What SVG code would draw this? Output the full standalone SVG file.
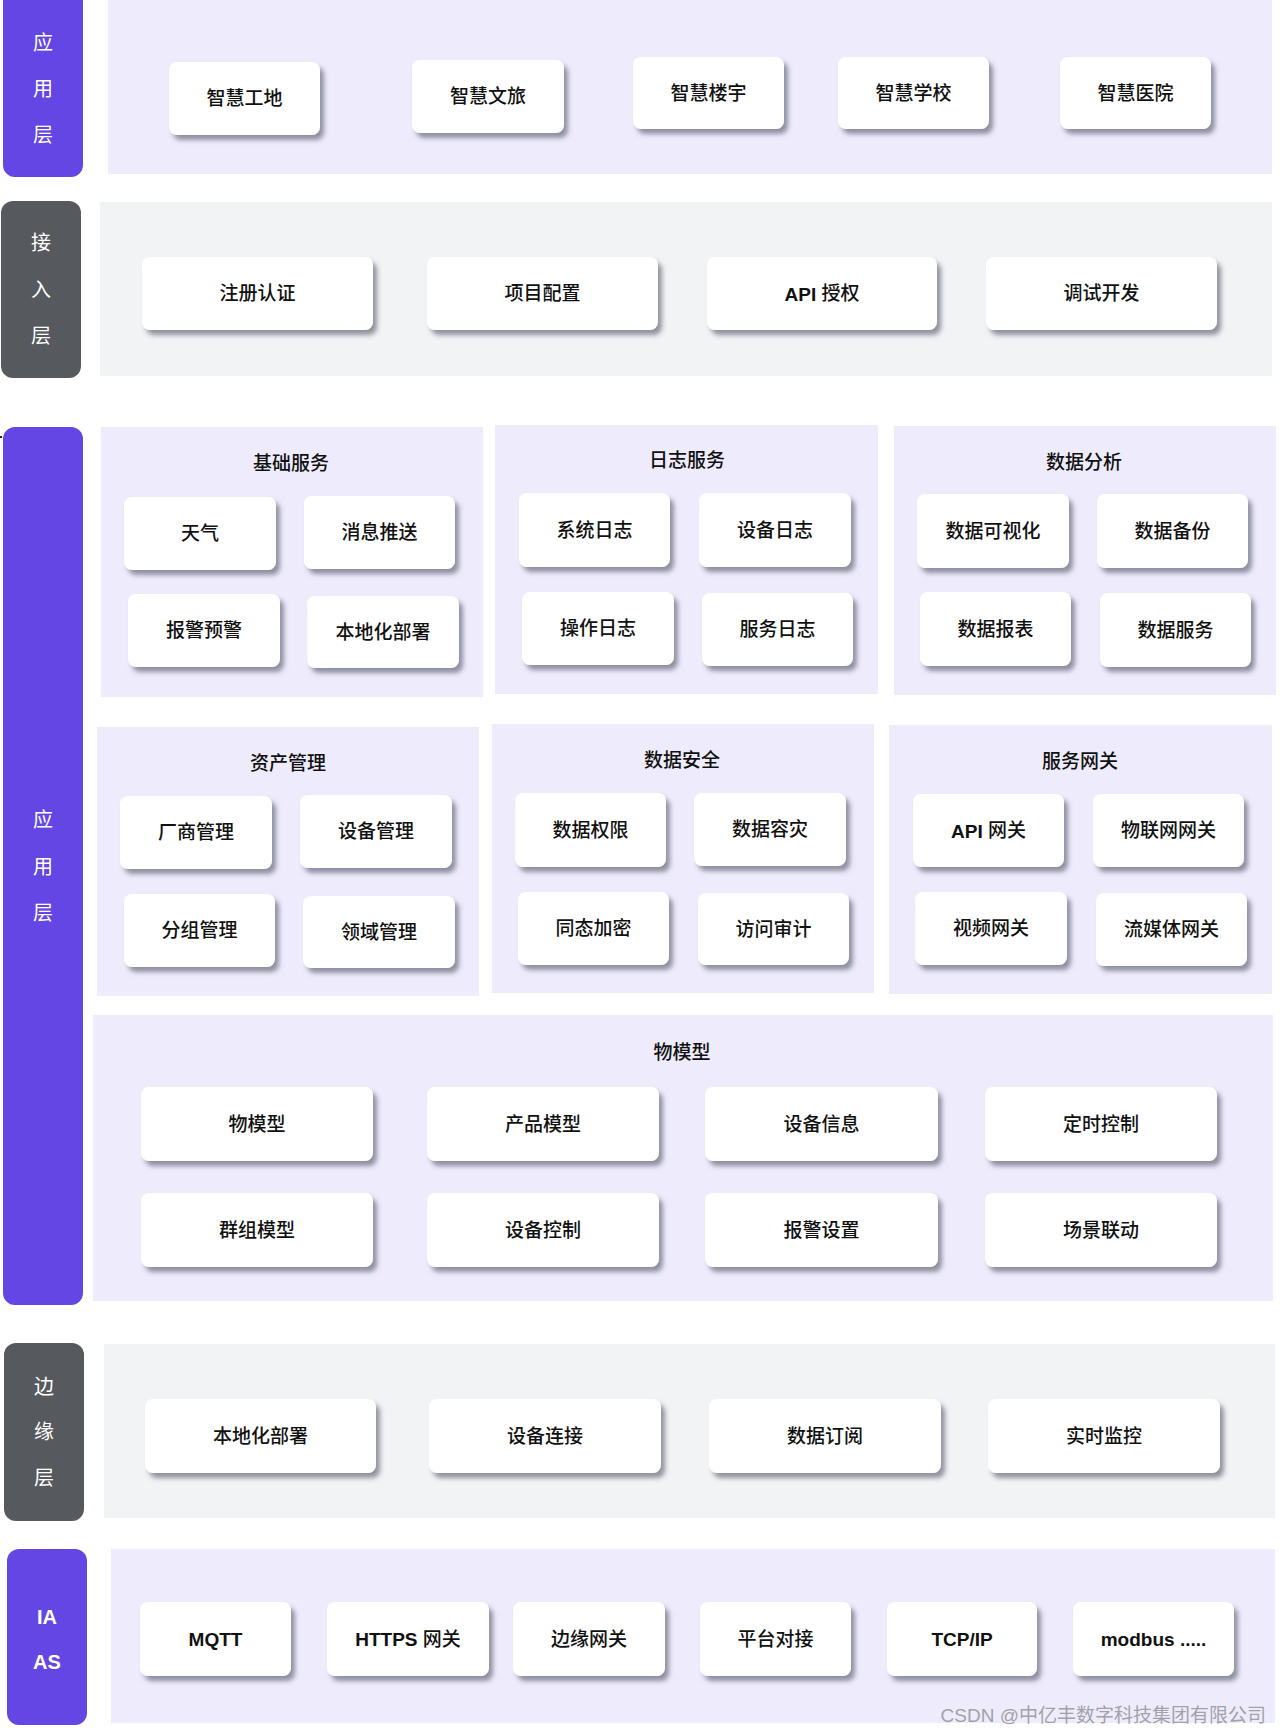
<svg xmlns="http://www.w3.org/2000/svg" width="1280" height="1735" viewBox="0 0 1280 1735">
<style>
.bgL{fill:#eeecfc}
.bgG{fill:#f2f3f5}
.labP{fill:#6446e5}
.labG{fill:#56595e}
.card{fill:#ffffff;filter:url(#sh)}
.t{font-family:"Liberation Sans","Noto Sans CJK SC",sans-serif;font-size:19px;font-weight:500;fill:#111;text-anchor:middle;dominant-baseline:central}
.tb{font-weight:bold}
.lt{font-family:"Liberation Sans","Noto Sans CJK SC",sans-serif;font-size:20px;fill:#fff;text-anchor:middle;dominant-baseline:central}
.wm{font-family:"Liberation Sans","Noto Sans CJK SC",sans-serif;font-size:19px;fill:#a2a2a8;text-anchor:end}
</style>
<defs>
<filter id="sh" x="-10%" y="-15%" width="125%" height="140%">
<feDropShadow dx="4" dy="5" stdDeviation="2.5" flood-color="#5a5c70" flood-opacity="0.65"/>
</filter>
</defs>
<rect width="1280" height="1735" fill="#ffffff"/>

<!-- Layer: 应用层 top -->
<g id="layer-app-top">
<rect class="bgL" x="108" y="0" width="1164" height="174"/>
<rect class="labP" x="3" y="-12" width="80" height="189" rx="12"/>
<text class="lt" x="43" y="43">应</text>
<text class="lt" x="43" y="89">用</text>
<text class="lt" x="43" y="135">层</text>
</g>
<g id="n-zhgd"><rect class="card" x="169" y="62" width="151" height="73" rx="8"/><text class="t" x="244.5" y="98.5">智慧工地</text></g>
<g id="n-zhwl"><rect class="card" x="412" y="60" width="152" height="73" rx="8"/><text class="t" x="488" y="96.5">智慧文旅</text></g>
<g id="n-zhly"><rect class="card" x="633" y="57" width="151" height="72" rx="8"/><text class="t" x="708.5" y="93">智慧楼宇</text></g>
<g id="n-zhxx"><rect class="card" x="838" y="57" width="151" height="72" rx="8"/><text class="t" x="913.5" y="93">智慧学校</text></g>
<g id="n-zhyy"><rect class="card" x="1060" y="57" width="151" height="72" rx="8"/><text class="t" x="1135.5" y="93">智慧医院</text></g>

<!-- Layer: 接入层 -->
<g id="layer-access">
<rect class="bgG" x="100" y="202" width="1172" height="174"/>
<rect class="labG" x="1" y="201" width="80" height="177" rx="12"/>
<text class="lt" x="41" y="243">接</text>
<text class="lt" x="41" y="290">入</text>
<text class="lt" x="41" y="336">层</text>
</g>
<g id="n-zcrz"><rect class="card" x="142" y="257" width="231" height="73" rx="8"/><text class="t" x="257.5" y="293.5">注册认证</text></g>
<g id="n-xmpz"><rect class="card" x="427" y="257" width="231" height="73" rx="8"/><text class="t" x="542.5" y="293.5">项目配置</text></g>
<g id="n-apisq"><rect class="card" x="707" y="257" width="230" height="73" rx="8"/><text class="t" x="822" y="293.5"><tspan class="tb">API</tspan> 授权</text></g>
<g id="n-tskf"><rect class="card" x="986" y="257" width="231" height="73" rx="8"/><text class="t" x="1101.5" y="293.5">调试开发</text></g>

<!-- Layer: 应用层 middle -->
<g id="layer-app-mid">
<rect class="labP" x="3" y="427" width="80" height="878" rx="12"/>
<text class="lt" x="43" y="820">应</text>
<text class="lt" x="43" y="867">用</text>
<text class="lt" x="43" y="913">层</text>
<rect x="0" y="436" width="2" height="2" fill="#222"/>
</g>

<g id="p-jcfw">
<rect class="bgL" x="101" y="427" width="382" height="270"/>
<text class="t" x="291" y="463">基础服务</text>
</g>
<g id="n-tq"><rect class="card" x="124" y="497" width="152" height="73" rx="8"/><text class="t" x="200" y="533.5">天气</text></g>
<g id="n-xxts"><rect class="card" x="304" y="496" width="151" height="73" rx="8"/><text class="t" x="379.5" y="532.5">消息推送</text></g>
<g id="n-bjyj"><rect class="card" x="128" y="594" width="152" height="73" rx="8"/><text class="t" x="204" y="630.5">报警预警</text></g>
<g id="n-bdhbs1"><rect class="card" x="307" y="596" width="152" height="72" rx="8"/><text class="t" x="383" y="632">本地化部署</text></g>

<g id="p-rzfw">
<rect class="bgL" x="495" y="425" width="383" height="269"/>
<text class="t" x="687" y="460">日志服务</text>
</g>
<g id="n-xtrz"><rect class="card" x="519" y="493" width="151" height="74" rx="8"/><text class="t" x="594.5" y="530">系统日志</text></g>
<g id="n-sbrz"><rect class="card" x="699" y="493" width="152" height="74" rx="8"/><text class="t" x="775" y="530">设备日志</text></g>
<g id="n-czrz"><rect class="card" x="522" y="592" width="152" height="73" rx="8"/><text class="t" x="598" y="628.5">操作日志</text></g>
<g id="n-fwrz"><rect class="card" x="702" y="593" width="151" height="73" rx="8"/><text class="t" x="777.5" y="629.5">服务日志</text></g>

<g id="p-sjfx">
<rect class="bgL" x="894" y="426" width="382" height="269"/>
<text class="t" x="1084" y="462">数据分析</text>
</g>
<g id="n-sjksh"><rect class="card" x="917" y="494" width="152" height="74" rx="8"/><text class="t" x="993" y="531">数据可视化</text></g>
<g id="n-sjbf"><rect class="card" x="1097" y="494" width="151" height="74" rx="8"/><text class="t" x="1172.5" y="531">数据备份</text></g>
<g id="n-sjbb"><rect class="card" x="920" y="592" width="151" height="74" rx="8"/><text class="t" x="995.5" y="629">数据报表</text></g>
<g id="n-sjfw"><rect class="card" x="1100" y="593" width="151" height="74" rx="8"/><text class="t" x="1175.5" y="630">数据服务</text></g>

<g id="p-zcgl">
<rect class="bgL" x="97" y="727" width="382" height="269"/>
<text class="t" x="288" y="763">资产管理</text>
</g>
<g id="n-csgl"><rect class="card" x="120" y="796" width="152" height="73" rx="8"/><text class="t" x="196" y="832.5">厂商管理</text></g>
<g id="n-sbgl"><rect class="card" x="300" y="795" width="152" height="73" rx="8"/><text class="t" x="376" y="831.5">设备管理</text></g>
<g id="n-fzgl"><rect class="card" x="124" y="894" width="151" height="73" rx="8"/><text class="t" x="199.5" y="930.5">分组管理</text></g>
<g id="n-lygl"><rect class="card" x="303" y="896" width="152" height="72" rx="8"/><text class="t" x="379" y="932">领域管理</text></g>

<g id="p-sjaq">
<rect class="bgL" x="492" y="724" width="382" height="269"/>
<text class="t" x="682" y="760">数据安全</text>
</g>
<g id="n-sjqx"><rect class="card" x="515" y="793" width="151" height="74" rx="8"/><text class="t" x="590.5" y="830">数据权限</text></g>
<g id="n-sjrz"><rect class="card" x="694" y="793" width="152" height="73" rx="8"/><text class="t" x="770" y="829.5">数据容灾</text></g>
<g id="n-ttjm"><rect class="card" x="518" y="892" width="151" height="73" rx="8"/><text class="t" x="593.5" y="928.5">同态加密</text></g>
<g id="n-fwsj"><rect class="card" x="698" y="893" width="151" height="72" rx="8"/><text class="t" x="773.5" y="929">访问审计</text></g>

<g id="p-fwwg">
<rect class="bgL" x="889" y="725" width="383" height="269"/>
<text class="t" x="1080" y="761">服务网关</text>
</g>
<g id="n-apiwg"><rect class="card" x="913" y="794" width="151" height="73" rx="8"/><text class="t" x="988.5" y="830.5"><tspan class="tb">API</tspan> 网关</text></g>
<g id="n-wlwwg"><rect class="card" x="1093" y="794" width="151" height="73" rx="8"/><text class="t" x="1168.5" y="830.5">物联网网关</text></g>
<g id="n-spwg"><rect class="card" x="915" y="892" width="152" height="73" rx="8"/><text class="t" x="991" y="928.5">视频网关</text></g>
<g id="n-lmtwg"><rect class="card" x="1096" y="893" width="151" height="73" rx="8"/><text class="t" x="1171.5" y="929.5">流媒体网关</text></g>

<g id="p-wmx">
<rect class="bgL" x="93" y="1015" width="1180" height="286"/>
<text class="t" x="682" y="1052">物模型</text>
</g>
<g id="n-wmx"><rect class="card" x="141" y="1087" width="232" height="74" rx="8"/><text class="t" x="257" y="1124">物模型</text></g>
<g id="n-cpmx"><rect class="card" x="427" y="1087" width="232" height="74" rx="8"/><text class="t" x="543" y="1124">产品模型</text></g>
<g id="n-sbxx"><rect class="card" x="705" y="1087" width="233" height="74" rx="8"/><text class="t" x="821.5" y="1124">设备信息</text></g>
<g id="n-dskz"><rect class="card" x="985" y="1087" width="232" height="74" rx="8"/><text class="t" x="1101" y="1124">定时控制</text></g>
<g id="n-qzmx"><rect class="card" x="141" y="1193" width="232" height="74" rx="8"/><text class="t" x="257" y="1230">群组模型</text></g>
<g id="n-sbkz"><rect class="card" x="427" y="1193" width="232" height="74" rx="8"/><text class="t" x="543" y="1230">设备控制</text></g>
<g id="n-bjsz"><rect class="card" x="705" y="1193" width="233" height="74" rx="8"/><text class="t" x="821.5" y="1230">报警设置</text></g>
<g id="n-cjld"><rect class="card" x="985" y="1193" width="232" height="74" rx="8"/><text class="t" x="1101" y="1230">场景联动</text></g>

<!-- Layer: 边缘层 -->
<g id="layer-edge">
<rect class="bgG" x="104" y="1344" width="1171" height="174"/>
<rect class="labG" x="4" y="1343" width="80" height="178" rx="12"/>
<text class="lt" x="44" y="1387">边</text>
<text class="lt" x="44" y="1432">缘</text>
<text class="lt" x="44" y="1478">层</text>
</g>
<g id="n-bdhbs2"><rect class="card" x="145" y="1399" width="231" height="74" rx="8"/><text class="t" x="260.5" y="1436">本地化部署</text></g>
<g id="n-sblj"><rect class="card" x="429" y="1399" width="232" height="74" rx="8"/><text class="t" x="545" y="1436">设备连接</text></g>
<g id="n-sjdy"><rect class="card" x="709" y="1399" width="232" height="74" rx="8"/><text class="t" x="825" y="1436">数据订阅</text></g>
<g id="n-ssjk"><rect class="card" x="988" y="1399" width="232" height="74" rx="8"/><text class="t" x="1104" y="1436">实时监控</text></g>

<!-- Layer: IAAS -->
<g id="layer-iaas">
<rect class="bgL" x="111" y="1549" width="1164" height="174"/>
<rect class="labP" x="7" y="1549" width="80" height="176" rx="12"/>
<text class="lt tb" x="47" y="1617">IA</text>
<text class="lt tb" x="47" y="1662">AS</text>
</g>
<g id="n-mqtt"><rect class="card" x="140" y="1602" width="151" height="74" rx="8"/><text class="t tb" x="215.5" y="1639">MQTT</text></g>
<g id="n-https"><rect class="card" x="327" y="1602" width="162" height="74" rx="8"/><text class="t" x="408" y="1639"><tspan class="tb">HTTPS</tspan> 网关</text></g>
<g id="n-byw"><rect class="card" x="513" y="1602" width="152" height="74" rx="8"/><text class="t" x="589" y="1639">边缘网关</text></g>
<g id="n-ptdj"><rect class="card" x="700" y="1602" width="151" height="74" rx="8"/><text class="t" x="775.5" y="1639">平台对接</text></g>
<g id="n-tcpip"><rect class="card" x="887" y="1602" width="150" height="74" rx="8"/><text class="t tb" x="962" y="1639">TCP/IP</text></g>
<g id="n-modbus"><rect class="card" x="1073" y="1602" width="161" height="74" rx="8"/><text class="t tb" x="1153.5" y="1639">modbus .....</text></g>

<g id="connectors"></g>

<text class="wm" x="1266" y="1722">CSDN @中亿丰数字科技集团有限公司</text>
</svg>
